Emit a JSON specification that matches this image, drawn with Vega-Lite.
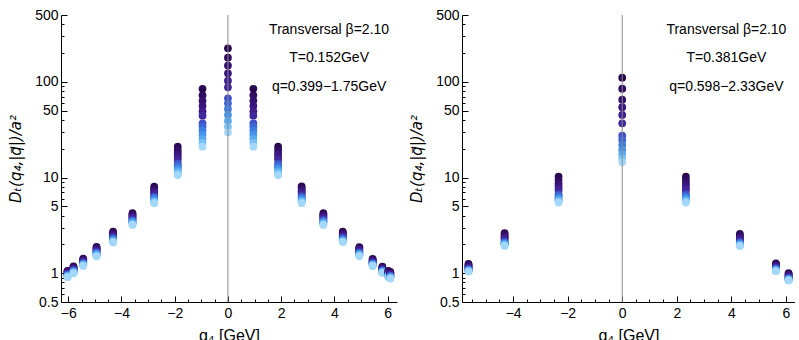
{
"$schema": "https://vega.github.io/schema/vega-lite/v6.json",
"background": "white",
"padding": {"left": 8, "top": 8, "right": 0, "bottom": 0},
"bounds": "flush",
"spacing": 65,
"config": {
  "view": {"stroke": null},
  "font": "Liberation Sans",
  "axis": {"domainColor": "#000000", "tickColor": "#000000", "labelColor": "#000000", "titleColor": "#000000", "labelFont": "Liberation Sans", "titleFont": "Liberation Sans", "labelFontSize": 14, "titleFontSize": 16, "titleFontWeight": "normal", "grid": false, "domainWidth": 1, "tickWidth": 1, "labelFlush": false, "labelOverlap": false}
},
"datasets": {
"L": [
{"q4":-6.025,"k":1,"D":1.06},{"q4":-6.025,"k":2,"D":1.04},{"q4":-6.025,"k":3,"D":1.03},{"q4":-6.025,"k":4,"D":1.01},{"q4":-6.025,"k":5,"D":1.00},{"q4":-6.025,"k":6,"D":0.99},{"q4":-6.025,"k":7,"D":0.97},{"q4":-6.025,"k":8,"D":0.96},{"q4":-6.025,"k":9,"D":0.95},{"q4":-6.025,"k":10,"D":0.94},{"q4":-6.025,"k":11,"D":0.93},{"q4":-6.025,"k":12,"D":0.92},{"q4":-6.025,"k":13,"D":0.91},
{"q4":-5.801,"k":1,"D":1.18},{"q4":-5.801,"k":2,"D":1.16},{"q4":-5.801,"k":3,"D":1.14},{"q4":-5.801,"k":4,"D":1.12},{"q4":-5.801,"k":5,"D":1.11},{"q4":-5.801,"k":6,"D":1.09},{"q4":-5.801,"k":7,"D":1.07},{"q4":-5.801,"k":8,"D":1.06},{"q4":-5.801,"k":9,"D":1.05},{"q4":-5.801,"k":10,"D":1.04},{"q4":-5.801,"k":11,"D":1.02},{"q4":-5.801,"k":12,"D":1.01},{"q4":-5.801,"k":13,"D":1.00},
{"q4":-5.435,"k":1,"D":1.42},{"q4":-5.435,"k":2,"D":1.39},{"q4":-5.435,"k":3,"D":1.37},{"q4":-5.435,"k":4,"D":1.35},{"q4":-5.435,"k":5,"D":1.33},{"q4":-5.435,"k":6,"D":1.31},{"q4":-5.435,"k":7,"D":1.28},{"q4":-5.435,"k":8,"D":1.26},{"q4":-5.435,"k":9,"D":1.25},{"q4":-5.435,"k":10,"D":1.24},{"q4":-5.435,"k":11,"D":1.22},{"q4":-5.435,"k":12,"D":1.21},{"q4":-5.435,"k":13,"D":1.19},
{"q4":-4.935,"k":1,"D":1.89},{"q4":-4.935,"k":2,"D":1.84},{"q4":-4.935,"k":3,"D":1.80},{"q4":-4.935,"k":4,"D":1.76},{"q4":-4.935,"k":5,"D":1.73},{"q4":-4.935,"k":6,"D":1.70},{"q4":-4.935,"k":7,"D":1.65},{"q4":-4.935,"k":8,"D":1.63},{"q4":-4.935,"k":9,"D":1.60},{"q4":-4.935,"k":10,"D":1.57},{"q4":-4.935,"k":11,"D":1.55},{"q4":-4.935,"k":12,"D":1.52},{"q4":-4.935,"k":13,"D":1.50},
{"q4":-4.313,"k":1,"D":2.72},{"q4":-4.313,"k":2,"D":2.64},{"q4":-4.313,"k":3,"D":2.58},{"q4":-4.313,"k":4,"D":2.52},{"q4":-4.313,"k":5,"D":2.46},{"q4":-4.313,"k":6,"D":2.42},{"q4":-4.313,"k":7,"D":2.33},{"q4":-4.313,"k":8,"D":2.30},{"q4":-4.313,"k":9,"D":2.25},{"q4":-4.313,"k":10,"D":2.21},{"q4":-4.313,"k":11,"D":2.17},{"q4":-4.313,"k":12,"D":2.14},{"q4":-4.313,"k":13,"D":2.10},
{"q4":-3.585,"k":1,"D":4.24},{"q4":-3.585,"k":2,"D":4.10},{"q4":-3.585,"k":3,"D":4.00},{"q4":-3.585,"k":4,"D":3.90},{"q4":-3.585,"k":5,"D":3.80},{"q4":-3.585,"k":6,"D":3.72},{"q4":-3.585,"k":7,"D":3.58},{"q4":-3.585,"k":8,"D":3.52},{"q4":-3.585,"k":9,"D":3.46},{"q4":-3.585,"k":10,"D":3.39},{"q4":-3.585,"k":11,"D":3.32},{"q4":-3.585,"k":12,"D":3.26},{"q4":-3.585,"k":13,"D":3.20},
{"q4":-2.769,"k":1,"D":8.03},{"q4":-2.769,"k":2,"D":7.69},{"q4":-2.769,"k":3,"D":7.40},{"q4":-2.769,"k":4,"D":7.13},{"q4":-2.769,"k":5,"D":6.89},{"q4":-2.769,"k":6,"D":6.67},{"q4":-2.769,"k":7,"D":6.32},{"q4":-2.769,"k":8,"D":6.18},{"q4":-2.769,"k":9,"D":6.01},{"q4":-2.769,"k":10,"D":5.85},{"q4":-2.769,"k":11,"D":5.68},{"q4":-2.769,"k":12,"D":5.53},{"q4":-2.769,"k":13,"D":5.39},
{"q4":-1.885,"k":1,"D":21.0},{"q4":-1.885,"k":2,"D":19.5},{"q4":-1.885,"k":3,"D":18.2},{"q4":-1.885,"k":4,"D":17.1},{"q4":-1.885,"k":5,"D":16.1},{"q4":-1.885,"k":6,"D":15.3},{"q4":-1.885,"k":7,"D":14.0},{"q4":-1.885,"k":8,"D":13.4},{"q4":-1.885,"k":9,"D":12.8},{"q4":-1.885,"k":10,"D":12.2},{"q4":-1.885,"k":11,"D":11.6},{"q4":-1.885,"k":12,"D":11.1},{"q4":-1.885,"k":13,"D":10.6},
{"q4":-0.954,"k":1,"D":84.5},{"q4":-0.954,"k":2,"D":72.3},{"q4":-0.954,"k":3,"D":63.4},{"q4":-0.954,"k":4,"D":55.8},{"q4":-0.954,"k":5,"D":49.3},{"q4":-0.954,"k":6,"D":44.3},{"q4":-0.954,"k":7,"D":36.9},{"q4":-0.954,"k":8,"D":34.0},{"q4":-0.954,"k":9,"D":30.9},{"q4":-0.954,"k":10,"D":28.0},{"q4":-0.954,"k":11,"D":25.3},{"q4":-0.954,"k":12,"D":23.1},{"q4":-0.954,"k":13,"D":21.0},
{"q4":0,"k":1,"D":224},{"q4":0,"k":2,"D":179},{"q4":0,"k":3,"D":148},{"q4":0,"k":4,"D":123},{"q4":0,"k":5,"D":103},{"q4":0,"k":6,"D":87.8},{"q4":0,"k":7,"D":67.4},{"q4":0,"k":8,"D":59.7},{"q4":0,"k":9,"D":52.1},{"q4":0,"k":10,"D":45.1},{"q4":0,"k":11,"D":39.0},{"q4":0,"k":12,"D":34.0},{"q4":0,"k":13,"D":29.7},
{"q4":0.954,"k":1,"D":84.5},{"q4":0.954,"k":2,"D":72.3},{"q4":0.954,"k":3,"D":63.4},{"q4":0.954,"k":4,"D":55.8},{"q4":0.954,"k":5,"D":49.3},{"q4":0.954,"k":6,"D":44.3},{"q4":0.954,"k":7,"D":36.9},{"q4":0.954,"k":8,"D":34.0},{"q4":0.954,"k":9,"D":30.9},{"q4":0.954,"k":10,"D":28.0},{"q4":0.954,"k":11,"D":25.3},{"q4":0.954,"k":12,"D":23.1},{"q4":0.954,"k":13,"D":21.0},
{"q4":1.885,"k":1,"D":21.0},{"q4":1.885,"k":2,"D":19.5},{"q4":1.885,"k":3,"D":18.2},{"q4":1.885,"k":4,"D":17.1},{"q4":1.885,"k":5,"D":16.1},{"q4":1.885,"k":6,"D":15.3},{"q4":1.885,"k":7,"D":14.0},{"q4":1.885,"k":8,"D":13.4},{"q4":1.885,"k":9,"D":12.8},{"q4":1.885,"k":10,"D":12.2},{"q4":1.885,"k":11,"D":11.6},{"q4":1.885,"k":12,"D":11.1},{"q4":1.885,"k":13,"D":10.6},
{"q4":2.769,"k":1,"D":8.10},{"q4":2.769,"k":2,"D":7.75},{"q4":2.769,"k":3,"D":7.45},{"q4":2.769,"k":4,"D":7.17},{"q4":2.769,"k":5,"D":6.92},{"q4":2.769,"k":6,"D":6.70},{"q4":2.769,"k":7,"D":6.34},{"q4":2.769,"k":8,"D":6.19},{"q4":2.769,"k":9,"D":6.02},{"q4":2.769,"k":10,"D":5.86},{"q4":2.769,"k":11,"D":5.69},{"q4":2.769,"k":12,"D":5.54},{"q4":2.769,"k":13,"D":5.39},
{"q4":3.585,"k":1,"D":4.24},{"q4":3.585,"k":2,"D":4.10},{"q4":3.585,"k":3,"D":4.00},{"q4":3.585,"k":4,"D":3.90},{"q4":3.585,"k":5,"D":3.80},{"q4":3.585,"k":6,"D":3.72},{"q4":3.585,"k":7,"D":3.58},{"q4":3.585,"k":8,"D":3.52},{"q4":3.585,"k":9,"D":3.46},{"q4":3.585,"k":10,"D":3.39},{"q4":3.585,"k":11,"D":3.32},{"q4":3.585,"k":12,"D":3.26},{"q4":3.585,"k":13,"D":3.20},
{"q4":4.313,"k":1,"D":2.72},{"q4":4.313,"k":2,"D":2.64},{"q4":4.313,"k":3,"D":2.58},{"q4":4.313,"k":4,"D":2.52},{"q4":4.313,"k":5,"D":2.46},{"q4":4.313,"k":6,"D":2.42},{"q4":4.313,"k":7,"D":2.33},{"q4":4.313,"k":8,"D":2.30},{"q4":4.313,"k":9,"D":2.25},{"q4":4.313,"k":10,"D":2.21},{"q4":4.313,"k":11,"D":2.17},{"q4":4.313,"k":12,"D":2.14},{"q4":4.313,"k":13,"D":2.12},
{"q4":4.935,"k":1,"D":1.87},{"q4":4.935,"k":2,"D":1.83},{"q4":4.935,"k":3,"D":1.79},{"q4":4.935,"k":4,"D":1.75},{"q4":4.935,"k":5,"D":1.72},{"q4":4.935,"k":6,"D":1.69},{"q4":4.935,"k":7,"D":1.64},{"q4":4.935,"k":8,"D":1.62},{"q4":4.935,"k":9,"D":1.60},{"q4":4.935,"k":10,"D":1.57},{"q4":4.935,"k":11,"D":1.55},{"q4":4.935,"k":12,"D":1.53},{"q4":4.935,"k":13,"D":1.51},
{"q4":5.435,"k":1,"D":1.41},{"q4":5.435,"k":2,"D":1.38},{"q4":5.435,"k":3,"D":1.36},{"q4":5.435,"k":4,"D":1.34},{"q4":5.435,"k":5,"D":1.32},{"q4":5.435,"k":6,"D":1.30},{"q4":5.435,"k":7,"D":1.27},{"q4":5.435,"k":8,"D":1.26},{"q4":5.435,"k":9,"D":1.25},{"q4":5.435,"k":10,"D":1.23},{"q4":5.435,"k":11,"D":1.22},{"q4":5.435,"k":12,"D":1.20},{"q4":5.435,"k":13,"D":1.19},
{"q4":5.801,"k":1,"D":1.17},{"q4":5.801,"k":2,"D":1.15},{"q4":5.801,"k":3,"D":1.13},{"q4":5.801,"k":4,"D":1.12},{"q4":5.801,"k":5,"D":1.10},{"q4":5.801,"k":6,"D":1.09},{"q4":5.801,"k":7,"D":1.07},{"q4":5.801,"k":8,"D":1.06},{"q4":5.801,"k":9,"D":1.05},{"q4":5.801,"k":10,"D":1.04},{"q4":5.801,"k":11,"D":1.03},{"q4":5.801,"k":12,"D":1.02},{"q4":5.801,"k":13,"D":1.01},
{"q4":6.025,"k":1,"D":1.06},{"q4":6.025,"k":2,"D":1.04},{"q4":6.025,"k":3,"D":1.03},{"q4":6.025,"k":4,"D":1.01},{"q4":6.025,"k":5,"D":1.00},{"q4":6.025,"k":6,"D":0.99},{"q4":6.025,"k":7,"D":0.97},{"q4":6.025,"k":8,"D":0.96},{"q4":6.025,"k":9,"D":0.95},{"q4":6.025,"k":10,"D":0.94},{"q4":6.025,"k":11,"D":0.93},{"q4":6.025,"k":12,"D":0.92},{"q4":6.025,"k":13,"D":0.91},
{"q4":6.1,"k":1,"D":1.03},{"q4":6.1,"k":2,"D":1.01},{"q4":6.1,"k":3,"D":1.00},{"q4":6.1,"k":4,"D":0.98},{"q4":6.1,"k":5,"D":0.97},{"q4":6.1,"k":6,"D":0.96},{"q4":6.1,"k":7,"D":0.94},{"q4":6.1,"k":8,"D":0.93},{"q4":6.1,"k":9,"D":0.92},{"q4":6.1,"k":10,"D":0.91},{"q4":6.1,"k":11,"D":0.90},{"q4":6.1,"k":12,"D":0.89},{"q4":6.1,"k":13,"D":0.88}
],
"R": [
{"q4":-5.636,"k":1,"D":1.25},{"q4":-5.636,"k":2,"D":1.22},{"q4":-5.636,"k":3,"D":1.19},{"q4":-5.636,"k":4,"D":1.17},{"q4":-5.636,"k":5,"D":1.15},{"q4":-5.636,"k":6,"D":1.13},{"q4":-5.636,"k":7,"D":1.10},{"q4":-5.636,"k":8,"D":1.09},{"q4":-5.636,"k":9,"D":1.08},{"q4":-5.636,"k":10,"D":1.07},{"q4":-5.636,"k":11,"D":1.06},{"q4":-5.636,"k":12,"D":1.05},{"q4":-5.636,"k":13,"D":1.04},
{"q4":-4.313,"k":1,"D":2.62},{"q4":-4.313,"k":2,"D":2.52},{"q4":-4.313,"k":3,"D":2.42},{"q4":-4.313,"k":4,"D":2.36},{"q4":-4.313,"k":5,"D":2.29},{"q4":-4.313,"k":6,"D":2.22},{"q4":-4.313,"k":7,"D":2.12},{"q4":-4.313,"k":8,"D":2.09},{"q4":-4.313,"k":9,"D":2.06},{"q4":-4.313,"k":10,"D":2.02},{"q4":-4.313,"k":11,"D":1.99},{"q4":-4.313,"k":12,"D":1.96},{"q4":-4.313,"k":13,"D":1.93},
{"q4":-2.334,"k":1,"D":10.2},{"q4":-2.334,"k":2,"D":9.42},{"q4":-2.334,"k":3,"D":8.69},{"q4":-2.334,"k":4,"D":8.20},{"q4":-2.334,"k":5,"D":7.74},{"q4":-2.334,"k":6,"D":7.29},{"q4":-2.334,"k":7,"D":6.65},{"q4":-2.334,"k":8,"D":6.44},{"q4":-2.334,"k":9,"D":6.21},{"q4":-2.334,"k":10,"D":5.98},{"q4":-2.334,"k":11,"D":5.79},{"q4":-2.334,"k":12,"D":5.64},{"q4":-2.334,"k":13,"D":5.47},
{"q4":0,"k":1,"D":110.6},{"q4":0,"k":2,"D":84.9},{"q4":0,"k":3,"D":65.2},{"q4":0,"k":4,"D":54.3},{"q4":0,"k":5,"D":45.1},{"q4":0,"k":6,"D":36.9},{"q4":0,"k":7,"D":27.4},{"q4":0,"k":8,"D":24.7},{"q4":0,"k":9,"D":21.9},{"q4":0,"k":10,"D":19.4},{"q4":0,"k":11,"D":17.5},{"q4":0,"k":12,"D":15.9},{"q4":0,"k":13,"D":14.5},
{"q4":2.334,"k":1,"D":10.2},{"q4":2.334,"k":2,"D":9.42},{"q4":2.334,"k":3,"D":8.69},{"q4":2.334,"k":4,"D":8.20},{"q4":2.334,"k":5,"D":7.74},{"q4":2.334,"k":6,"D":7.29},{"q4":2.334,"k":7,"D":6.65},{"q4":2.334,"k":8,"D":6.44},{"q4":2.334,"k":9,"D":6.21},{"q4":2.334,"k":10,"D":5.98},{"q4":2.334,"k":11,"D":5.79},{"q4":2.334,"k":12,"D":5.64},{"q4":2.334,"k":13,"D":5.47},
{"q4":4.313,"k":1,"D":2.58},{"q4":4.313,"k":2,"D":2.48},{"q4":4.313,"k":3,"D":2.39},{"q4":4.313,"k":4,"D":2.33},{"q4":4.313,"k":5,"D":2.27},{"q4":4.313,"k":6,"D":2.20},{"q4":4.313,"k":7,"D":2.11},{"q4":4.313,"k":8,"D":2.08},{"q4":4.313,"k":9,"D":2.04},{"q4":4.313,"k":10,"D":2.01},{"q4":4.313,"k":11,"D":1.98},{"q4":4.313,"k":12,"D":1.95},{"q4":4.313,"k":13,"D":1.92},
{"q4":5.636,"k":1,"D":1.27},{"q4":5.636,"k":2,"D":1.24},{"q4":5.636,"k":3,"D":1.21},{"q4":5.636,"k":4,"D":1.19},{"q4":5.636,"k":5,"D":1.17},{"q4":5.636,"k":6,"D":1.15},{"q4":5.636,"k":7,"D":1.12},{"q4":5.636,"k":8,"D":1.11},{"q4":5.636,"k":9,"D":1.10},{"q4":5.636,"k":10,"D":1.08},{"q4":5.636,"k":11,"D":1.07},{"q4":5.636,"k":12,"D":1.06},{"q4":5.636,"k":13,"D":1.05},
{"q4":6.1,"k":1,"D":1.00},{"q4":6.1,"k":2,"D":0.98},{"q4":6.1,"k":3,"D":0.96},{"q4":6.1,"k":4,"D":0.94},{"q4":6.1,"k":5,"D":0.92},{"q4":6.1,"k":6,"D":0.91},{"q4":6.1,"k":7,"D":0.89},{"q4":6.1,"k":8,"D":0.88},{"q4":6.1,"k":9,"D":0.87},{"q4":6.1,"k":10,"D":0.86},{"q4":6.1,"k":11,"D":0.85},{"q4":6.1,"k":12,"D":0.85},{"q4":6.1,"k":13,"D":0.84}
]
},
"hconcat": [
{
  "width": 336, "height": 287,
  "resolve": {"axis": {"x": "independent", "y": "independent"}},
  "layer": [
    {
      "data": {"name": "L"},
      "mark": {"type": "circle", "size": 60, "opacity": 1},
      "encoding": {
        "x": {"field": "q4", "type": "quantitative", "scale": {"domain": [-6.27, 6.35], "nice": false, "zero": false},
              "axis": {"values": [-6, -4, -2, 0, 2, 4, 6], "tickSize": -6, "labelPadding": 10, "title": "q₄ [GeV]", "titlePadding": 7, "format": "d"}},
        "y": {"field": "D", "type": "quantitative", "scale": {"type": "log", "domain": [0.5, 500], "nice": false, "zero": false},
              "axis": {"values": [0.5, 1, 5, 10, 50, 100, 500], "tickSize": -6, "labelPadding": 9, "format": "~g", "title": "Dₜ(q₄,|q⃗|)/a²", "titleFont": "DejaVu Sans", "titleFontSize": 15, "titleFontStyle": "italic", "titlePadding": 11}},
        "color": {"field": "k", "type": "ordinal", "legend": null,
                  "scale": {"range": ["#2a0850", "#300b5f", "#36106e", "#3b157d", "#3f1c8c", "#42269b", "#3f4fc8", "#3c66d6", "#3d7de2", "#4594ea", "#58aaf1", "#78c1f6", "#a3d8fa"]}}
      }
    },
    {
      "data": {"name": "L"},
      "mark": {"type": "circle", "opacity": 0},
      "encoding": {
        "x": {"field": "q4", "type": "quantitative",
              "axis": {"orient": "bottom", "values": [-5.5, -5, -4.5, -3.5, -3, -2.5, -1.5, -1, -0.5, 0.5, 1, 1.5, 2.5, 3, 3.5, 4.5, 5, 5.5], "tickSize": -3, "labels": false, "domain": false, "title": null}},
        "y": {"field": "D", "type": "quantitative",
              "axis": {"orient": "left", "values": [0.6, 0.7, 0.8, 0.9, 2, 3, 4, 6, 7, 8, 9, 20, 30, 40, 60, 70, 80, 90, 200, 300, 400], "tickSize": -3, "labels": false, "domain": false, "title": null}}
      }
    },
    {
      "data": {"values": [{}]},
      "mark": {"type": "rule", "color": "#8c8c8c", "strokeWidth": 1},
      "encoding": {"x": {"datum": 0, "type": "quantitative", "axis": null}}
    },
    {
      "data": {"values": [{}]},
      "mark": {"type": "text", "fontSize": 14, "font": "Liberation Sans", "align": "center", "baseline": "middle", "color": "#000000"},
      "encoding": {"x": {"datum": 3.8, "type": "quantitative", "axis": null}, "y": {"datum": 348, "type": "quantitative", "axis": null}, "text": {"value": "Transversal β=2.10"}}
    },
    {
      "data": {"values": [{}]},
      "mark": {"type": "text", "fontSize": 14, "font": "Liberation Sans", "align": "center", "baseline": "middle", "color": "#000000"},
      "encoding": {"x": {"datum": 3.8, "type": "quantitative", "axis": null}, "y": {"datum": 178, "type": "quantitative", "axis": null}, "text": {"value": "T=0.152GeV"}}
    },
    {
      "data": {"values": [{}]},
      "mark": {"type": "text", "fontSize": 14, "font": "Liberation Sans", "align": "center", "baseline": "middle", "color": "#000000"},
      "encoding": {"x": {"datum": 3.8, "type": "quantitative", "axis": null}, "y": {"datum": 88.5, "type": "quantitative", "axis": null}, "text": {"value": "q=0.399−1.75GeV"}}
    }
  ]
},
{
  "width": 333, "height": 287,
  "resolve": {"axis": {"x": "independent", "y": "independent"}},
  "layer": [
    {
      "data": {"name": "R"},
      "mark": {"type": "circle", "size": 60, "opacity": 1},
      "encoding": {
        "x": {"field": "q4", "type": "quantitative", "scale": {"domain": [-5.875, 6.335], "nice": false, "zero": false},
              "axis": {"values": [-4, -2, 0, 2, 4, 6], "tickSize": -6, "labelPadding": 10, "title": "q₄ [GeV]", "titlePadding": 7, "format": "d"}},
        "y": {"field": "D", "type": "quantitative", "scale": {"type": "log", "domain": [0.5, 500], "nice": false, "zero": false},
              "axis": {"values": [0.5, 1, 5, 10, 50, 100, 500], "tickSize": -6, "labelPadding": 9, "format": "~g", "title": "Dₜ(q₄,|q⃗|)/a²", "titleFont": "DejaVu Sans", "titleFontSize": 15, "titleFontStyle": "italic", "titlePadding": 11}},
        "color": {"field": "k", "type": "ordinal", "legend": null,
                  "scale": {"range": ["#2a0850", "#300b5f", "#36106e", "#3b157d", "#3f1c8c", "#42269b", "#3f4fc8", "#3c66d6", "#3d7de2", "#4594ea", "#58aaf1", "#78c1f6", "#a3d8fa"]}}
      }
    },
    {
      "data": {"name": "R"},
      "mark": {"type": "circle", "opacity": 0},
      "encoding": {
        "x": {"field": "q4", "type": "quantitative",
              "axis": {"orient": "bottom", "values": [-5.5, -5, -4.5, -3.5, -3, -2.5, -1.5, -1, -0.5, 0.5, 1, 1.5, 2.5, 3, 3.5, 4.5, 5, 5.5], "tickSize": -3, "labels": false, "domain": false, "title": null}},
        "y": {"field": "D", "type": "quantitative",
              "axis": {"orient": "left", "values": [0.6, 0.7, 0.8, 0.9, 2, 3, 4, 6, 7, 8, 9, 20, 30, 40, 60, 70, 80, 90, 200, 300, 400], "tickSize": -3, "labels": false, "domain": false, "title": null}}
      }
    },
    {
      "data": {"values": [{}]},
      "mark": {"type": "rule", "color": "#8c8c8c", "strokeWidth": 1},
      "encoding": {"x": {"datum": 0, "type": "quantitative", "axis": null}}
    },
    {
      "data": {"values": [{}]},
      "mark": {"type": "text", "fontSize": 14, "font": "Liberation Sans", "align": "center", "baseline": "middle", "color": "#000000"},
      "encoding": {"x": {"datum": 3.82, "type": "quantitative", "axis": null}, "y": {"datum": 348, "type": "quantitative", "axis": null}, "text": {"value": "Transversal β=2.10"}}
    },
    {
      "data": {"values": [{}]},
      "mark": {"type": "text", "fontSize": 14, "font": "Liberation Sans", "align": "center", "baseline": "middle", "color": "#000000"},
      "encoding": {"x": {"datum": 3.82, "type": "quantitative", "axis": null}, "y": {"datum": 178, "type": "quantitative", "axis": null}, "text": {"value": "T=0.381GeV"}}
    },
    {
      "data": {"values": [{}]},
      "mark": {"type": "text", "fontSize": 14, "font": "Liberation Sans", "align": "center", "baseline": "middle", "color": "#000000"},
      "encoding": {"x": {"datum": 3.82, "type": "quantitative", "axis": null}, "y": {"datum": 88.5, "type": "quantitative", "axis": null}, "text": {"value": "q=0.598−2.33GeV"}}
    }
  ]
}
]
}
